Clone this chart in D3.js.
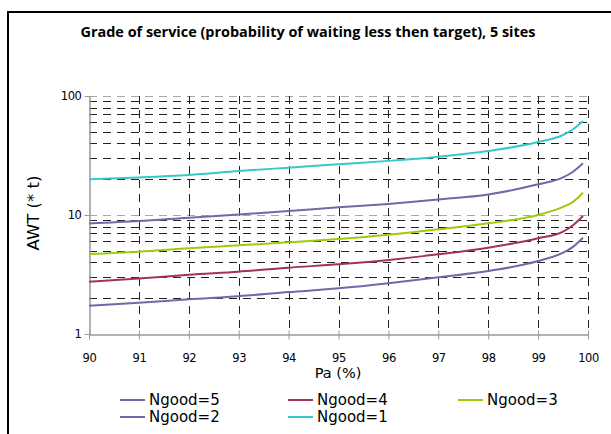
<!DOCTYPE html>
<html>
<head>
<meta charset="utf-8">
<script src="https://cdn.jsdelivr.net/npm/d3@7"></script>
<style>
  body { margin: 0; background: #fff; }
  svg { display: block; }
</style>
</head>
<body>
<svg id="chart" width="611" height="434"></svg>
<script>
// Pa (%) sample points
const pa = [90, 91, 92, 93, 94, 95, 96, 97, 98, 99, 99.5, 99.7, 99.9];

// AWT (* t), one array per series
const ngood5 = [1.73, 1.83, 1.96, 2.08, 2.25, 2.42, 2.67, 3.0, 3.38, 4.1, 4.82, 5.4, 6.44];
const ngood4 = [2.75, 2.92, 3.15, 3.34, 3.61, 3.85, 4.19, 4.67, 5.31, 6.37, 7.24, 8.2, 9.8];
const ngood3 = [4.7, 4.92, 5.25, 5.56, 5.9, 6.29, 6.83, 7.58, 8.52, 10.0, 11.7, 12.9, 15.4];
const ngood2 = [8.5, 8.9, 9.5, 10.1, 10.8, 11.6, 12.4, 13.5, 14.9, 18.1, 20.7, 23.1, 27.2];
const ngood1 = [20.0, 20.7, 21.7, 23.4, 25.0, 26.7, 28.5, 30.9, 34.5, 41, 47, 52.5, 61.6];

const seriesNames = ["Ngood=5", "Ngood=4", "Ngood=3", "Ngood=2", "Ngood=1"];
const seriesValues = [ngood5, ngood4, ngood3, ngood2, ngood1];
const seriesColors = ["#6b6ba6", "#a3315f", "#9ccc0a", "#6b6ba6", "#35c9c9"];

const xTicks = [90, 91, 92, 93, 94, 95, 96, 97, 98, 99, 100];
const yLabels = [1, 10, 100];

const svg = d3.select("#chart");
const tickFont = "DejaVu Sans, Verdana, sans-serif";

//Outer frame (runs past the right/bottom of the window)
svg.append("rect")
  .attr("x", 8).attr("y", 12)
  .attr("width", 640).attr("height", 460)
  .attr("fill", "#fff")
  .attr("stroke", "#000")
  .attr("stroke-width", 2);

//Title
svg.append("text")
  .attr("x", 308).attr("y", 37)
  .attr("text-anchor", "middle")
  .attr("textLength", 455)
  .attr("lengthAdjust", "spacingAndGlyphs")
  .style("font-family", "Open Sans, Lato, sans-serif")
  .style("font-weight", "bold")
  .style("font-size", "13.5px")
  .text("Grade of service (probability of waiting less then target), 5 sites");

//Scales
const x = d3.scaleLinear().domain([90, 100]).range([89, 588]);
const y = d3.scaleLog().domain([1, 100]).range([334, 96]);

//Gridlines
const gGrid = svg.append("g").attr("id", "grid");
const yGrid = [];
[1, 10].forEach(dec => d3.range(2, 11).forEach(m => yGrid.push(dec * m)));

gGrid.selectAll("line.hgrid")
  .data(yGrid)
  .enter()
    .append("line")
    .classed("hgrid", true)
    .attr("x1", x(90)).attr("x2", x(100))
    .attr("y1", d => Math.round(y(d)) + 0.5)
    .attr("y2", d => Math.round(y(d)) + 0.5)
    .attr("stroke", d => (d === 10 || d === 100) ? "#a8a8a8" : "#222")
    .attr("stroke-width", 1)
    .attr("stroke-dasharray", "8,6");

gGrid.selectAll("line.vgrid")
  .data(xTicks.slice(1))
  .enter()
    .append("line")
    .classed("vgrid", true)
    .attr("x1", d => Math.round(x(d)) + 0.5)
    .attr("x2", d => Math.round(x(d)) + 0.5)
    .attr("y1", y(100)).attr("y2", y(1))
    .attr("stroke", "#222")
    .attr("stroke-width", 1)
    .attr("stroke-dasharray", "8,6");

//Axes
const xAxis = svg.append("g")
  .attr("transform", `translate(0,${Math.round(y(1)) + 0.5})`)
  .call(d3.axisBottom(x).tickValues(xTicks).tickFormat(d3.format("d")).tickSize(5).tickPadding(14).tickSizeOuter(0));
xAxis.selectAll("line").attr("y1", -4).attr("stroke", "#999");
xAxis.select(".domain").attr("stroke", "#999").attr("stroke-width", 1.5);
xAxis.selectAll("text")
  .attr("font-family", tickFont)
  .attr("font-size", 11.5)
  .attr("letter-spacing", "-0.4")
  .attr("fill", "#000");

const yAxis = svg.append("g")
  .attr("transform", `translate(${Math.round(x(90)) + 0.5},0)`)
  .call(d3.axisLeft(y).tickValues(yLabels).tickFormat(d3.format("d")).tickSize(5).tickPadding(3).tickSizeOuter(0));
yAxis.select(".domain").attr("stroke", "#999").attr("stroke-width", 1.5);
yAxis.selectAll("line").attr("stroke", "#999");
yAxis.selectAll("text")
  .attr("font-family", tickFont)
  .attr("font-size", 11.5)
  .attr("letter-spacing", "-0.4")
  .attr("fill", "#000");

//Axis titles
svg.append("text")
  .attr("x", 338).attr("y", 378)
  .attr("text-anchor", "middle")
  .attr("font-family", tickFont)
  .attr("font-size", 14.5)
  .text("Pa (%)");

svg.append("text")
  .attr("transform", "translate(39,213) rotate(-90)")
  .attr("text-anchor", "middle")
  .attr("font-family", tickFont)
  .attr("font-size", 16.5)
  .text("AWT (* t)");

//Series lines
const line = d3.line()
  .x((d, i) => x(pa[i]))
  .y(d => y(d))
  .curve(d3.curveMonotoneX);

svg.append("g").attr("id", "series")
  .selectAll("path")
  .data(seriesValues)
  .enter()
    .append("path")
    .attr("fill", "none")
    .attr("stroke", (d, i) => seriesColors[i])
    .attr("stroke-width", 2)
    .attr("d", line);

//Legend: 3 columns, 2 rows
const legendCols = [120, 288, 458];
const legendRows = [405, 422];
const legend = svg.append("g").attr("id", "legend")
  .selectAll("g")
  .data(seriesNames)
  .enter()
    .append("g")
    .attr("transform", (d, i) => `translate(${legendCols[i % 3]},${legendRows[Math.floor(i / 3)]})`);

legend.append("line")
  .attr("x1", 0).attr("x2", 25)
  .attr("y1", -5).attr("y2", -5)
  .attr("stroke", (d, i) => seriesColors[i])
  .attr("stroke-width", 2);

legend.append("text")
  .attr("x", 29).attr("y", 0)
  .attr("font-family", tickFont)
  .attr("font-size", 15)
  .text(d => d);
</script>
</body>
</html>
